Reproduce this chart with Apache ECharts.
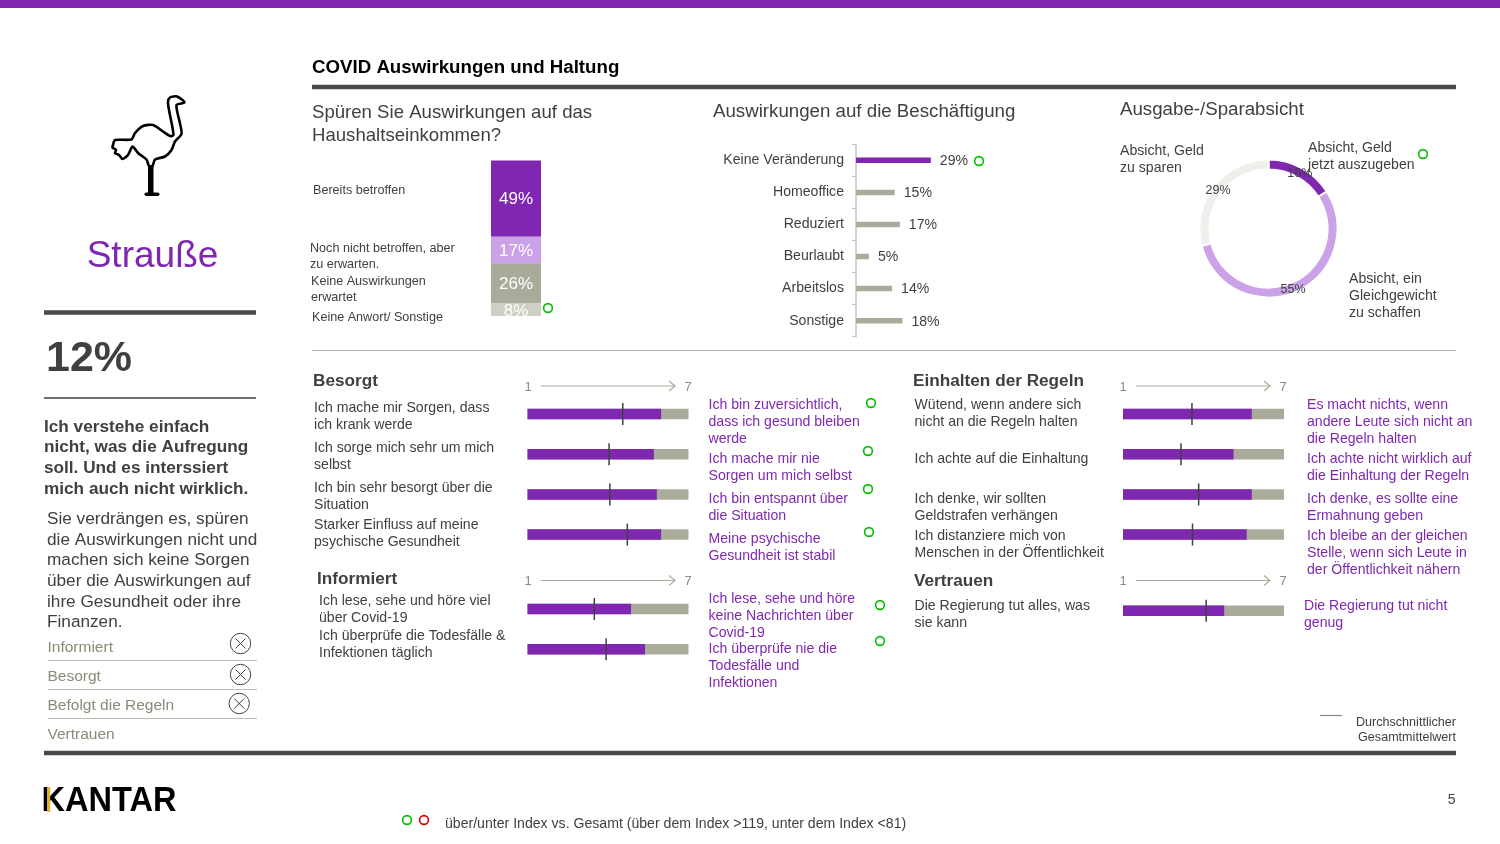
<!DOCTYPE html>
<html>
<head>
<meta charset="utf-8">
<title>COVID Auswirkungen und Haltung</title>
<script src="https://cdn.jsdelivr.net/npm/echarts@6/dist/echarts.min.js"></script>
<style>
html, body { margin: 0; padding: 0; background: #fff; }
#chart { width: 1500px; height: 844px; }
</style>
</head>
<body>
<div id="chart"></div>
<script>
// data
var incomeNames = ['Bereits betroffen', 'Noch nicht betroffen', 'Keine Auswirkungen', 'Keine Anwort/ Sonstige'];
var incomeValues = [49, 17, 26, 8];
var jobNames = ['Keine Veränderung', 'Homeoffice', 'Reduziert', 'Beurlaubt', 'Arbeitslos', 'Sonstige'];
var jobValues = [29, 15, 17, 5, 14, 18];
var spendNames = ['Absicht, Geld jetzt auszugeben', 'Absicht, ein Gleichgewicht zu schaffen', 'Absicht, Geld zu sparen'];
var spendValues = [16, 55, 29];

var besorgtValues = [5.98, 5.71, 5.82, 5.98];
var besorgtAvg = [4.55, 4.04, 4.07, 4.72];
var informiertValues = [4.86, 5.38];
var informiertAvg = [3.49, 3.93];
var regelnValues = [5.80, 5.12, 5.80, 5.61];
var regelnAvg = [3.57, 3.16, 3.82, 3.59];
var vertrauenValues = [4.77];
var vertrauenAvg = [4.10];

var besorgtLeft = ['Ich mache mir Sorgen, dass\nich krank werde', 'Ich sorge mich sehr um mich\nselbst', 'Ich bin sehr besorgt über die\nSituation', 'Starker Einfluss auf meine\npsychische Gesundheit'];
var besorgtRight = ['Ich bin zuversichtlich,\ndass ich gesund bleiben\nwerde', 'Ich mache mir nie\nSorgen um mich selbst', 'Ich bin entspannt über\ndie Situation', 'Meine psychische\nGesundheit ist stabil'];
var informiertLeft = ['Ich lese, sehe und höre viel\nüber Covid-19', 'Ich überprüfe die Todesfälle &\nInfektionen täglich'];
var informiertRight = ['Ich lese, sehe und höre\nkeine Nachrichten über\nCovid-19', 'Ich überprüfe nie die\nTodesfälle und\nInfektionen'];
var regelnLeft = ['Wütend, wenn andere sich\nnicht an die Regeln halten', 'Ich achte auf die Einhaltung', 'Ich denke, wir sollten\nGeldstrafen verhängen', 'Ich distanziere mich von\nMenschen in der Öffentlichkeit'];
var regelnRight = ['Es macht nichts, wenn\nandere Leute sich nicht an\ndie Regeln halten', 'Ich achte nicht wirklich auf\ndie Einhaltung der Regeln', 'Ich denke, es sollte eine\nErmahnung geben', 'Ich bleibe an der gleichen\nStelle, wenn sich Leute in\nder Öffentlichkeit nähern'];
var vertrauenLeft = ['Die Regierung tut alles, was\nsie kann'];
var vertrauenRight = ['Die Regierung tut nicht\ngenug'];

var profileItems = ['Informiert', 'Besorgt', 'Befolgt die Regeln', 'Vertrauen'];
var boldText = 'Ich verstehe einfach\nnicht, was die Aufregung\nsoll. Und es interssiert\nmich auch nicht wirklich.';
var plainText = 'Sie verdrängen es, spüren\ndie Auswirkungen nicht und\nmachen sich keine Sorgen\nüber die Auswirkungen auf\nihre Gesundheit oder ihre\nFinanzen.';

// colours
var PURPLE = '#7F27B0', LILAC = '#CBA2E8', GREY = '#ABAB9B', PALE = '#CFCFC5', MIST = '#EFEFEB';
var DARK = '#404040', RULE = '#4A4A4A', GREEN = '#00BE00', RED = '#E00000';
var FONT = '"Liberation Sans", Arial, sans-serif';

var chart = echarts.init(document.getElementById('chart'));
var graphics = [];

function text(str, x, y, size, color, opt) {
    opt = opt || {};
    var lh = opt.lh || Math.round(size * 1.16);
    graphics.push({
        type: 'text',
        z: 10,
        style: {
            text: str, x: x, y: y - lh / 2 + 1,
            fill: color || DARK,
            font: (opt.bold ? 'bold ' : '') + size + 'px ' + FONT,
            lineHeight: lh,
            textAlign: opt.align || 'left',
            textVerticalAlign: 'top'
        }
    });
}
function rule(x1, x2, y, w, color) {
    graphics.push({ type: 'line', shape: { x1: x1, y1: y, x2: x2, y2: y }, style: { stroke: color, lineWidth: w } });
}
function ring(x, y, color) {
    graphics.push({ type: 'circle', z: 10, shape: { cx: x, cy: y, r: 4.4 }, style: { fill: 'none', stroke: color, lineWidth: 1.6 } });
}
function crossed(x, y) {
    graphics.push({ type: 'circle', shape: { cx: x, cy: y, r: 10.2 }, style: { fill: 'none', stroke: DARK, lineWidth: 1 } });
    graphics.push({ type: 'line', shape: { x1: x - 5, y1: y - 5, x2: x + 5, y2: y + 5 }, style: { stroke: DARK, lineWidth: 1 } });
    graphics.push({ type: 'line', shape: { x1: x - 5, y1: y + 5, x2: x + 5, y2: y - 5 }, style: { stroke: DARK, lineWidth: 1 } });
}
function scaleArrow(x1, x2, y, lx1, lx2) {
    graphics.push({ type: 'line', shape: { x1: x1, y1: y, x2: x2, y2: y }, style: { stroke: GREY, lineWidth: 1.2 } });
    graphics.push({ type: 'polyline', shape: { points: [[x2 - 6, y - 5], [x2, y], [x2 - 6, y + 5]] }, style: { fill: 'none', stroke: GREY, lineWidth: 1.2 } });
    text('1', lx1, y, 13, '#8C8C7C', { align: 'center' });
    text('7', lx2, y, 13, '#8C8C7C', { align: 'center' });
}
function block(list, x, ys, color) {
    for (var i = 0; i < list.length; i++) {
        text(list[i], x, ys[i], 14.1, color, { lh: 17 });
    }
}

// page frame
graphics.push({ type: 'rect', shape: { x: 0, y: 0, width: 1500, height: 8 }, style: { fill: PURPLE } });
rule(312, 1456, 87, 4.5, RULE);
rule(312, 1456, 350.5, 1, '#B4B4B4');
rule(44, 256, 312.5, 4.5, RULE);
rule(44, 256, 398, 1.5, DARK);
rule(44, 1456, 753, 4.5, RULE);

// ostrich icon
graphics.push({
    type: 'polygon',
    shape: {
        smooth: 0.25,
        points: [[184.5, 102.5], [177, 96.5], [170, 97.5], [168, 102], [169, 110], [173.5, 135], [170, 136], [163, 131.5], [153, 125], [143, 126], [135, 133], [131.5, 139.5],
            [115, 140], [113, 145], [112.5, 147.5], [116, 150], [115, 153], [119, 155], [122.5, 159], [128, 155], [132.5, 146.5], [138, 153], [146.5, 159.5], [149, 166],
            [152.5, 166], [155, 159.5], [165, 156.5], [171.5, 150], [175, 141.5], [181.5, 134], [180, 123.5], [176.5, 105]]
    },
    style: { fill: 'none', stroke: '#000', lineWidth: 2.6, lineJoin: 'round' }
});
graphics.push({ type: 'rect', shape: { x: 148, y: 165, width: 5.5, height: 29 }, style: { fill: '#000' } });
graphics.push({ type: 'rect', shape: { x: 144.5, y: 192.5, width: 15, height: 3.5, r: 1.7 }, style: { fill: '#000' } });

// left panel
text('Strauße', 152.5, 256, 37, PURPLE, { align: 'center' });
text('12%', 46, 358, 43, DARK, { bold: true });
text(boldText, 44, 426, 17.2, DARK, { bold: true, lh: 20.6 });
text(plainText, 47, 518.5, 17.2, DARK, { lh: 20.6 });
var itemYs = [646.5, 675.5, 704.5, 733.5];
for (var i = 0; i < profileItems.length; i++) {
    text(profileItems[i], 47.5, itemYs[i], 15.5, '#8A8A78');
}
rule(48, 257, 660.5, 1, '#BDBDB0');
rule(48, 257, 689.5, 1, '#BDBDB0');
rule(48, 257, 718.5, 1, '#BDBDB0');
crossed(240.5, 643.5);
crossed(240.5, 674.5);
crossed(239.2, 703.5);

// headings
text('COVID Auswirkungen und Haltung', 312, 66.5, 18.7, '#000', { bold: true });
text('Spüren Sie Auswirkungen auf das\nHaushaltseinkommen?', 312, 111.5, 18.6, DARK, { lh: 23 });
text('Auswirkungen auf die Beschäftigung', 713, 111, 18.7, DARK);
text('Ausgabe-/Sparabsicht', 1120, 109, 18.7, DARK);

// labels of the income bar
text('Bereits betroffen', 313, 190, 12.6, DARK);
text('Noch nicht betroffen, aber\nzu erwarten.', 310, 248, 12.6, DARK, { lh: 15.5 });
text('Keine Auswirkungen\nerwartet', 311, 281, 12.6, DARK, { lh: 15.5 });
text('Keine Anwort/ Sonstige', 312, 316.5, 12.6, DARK);
// the last label is cut off at the foot of the bar
graphics.push({ type: 'rect', z: 20, shape: { x: 491, y: 316, width: 50, height: 6 }, style: { fill: '#fff' } });

// labels of the ring
text('Absicht, Geld\nzu sparen', 1120, 150.5, 14.1, DARK, { lh: 17 });
text('Absicht, Geld\njetzt auszugeben', 1308, 147.5, 14.1, DARK, { lh: 17 });
text('Absicht, ein\nGleichgewicht\nzu schaffen', 1349, 278.5, 14.1, DARK, { lh: 17 });

// attitude blocks
text('Besorgt', 313, 380, 17.2, DARK, { bold: true });
text('Informiert', 317, 578.5, 17.2, DARK, { bold: true });
text('Einhalten der Regeln', 913, 380, 17.2, DARK, { bold: true });
text('Vertrauen', 914, 580.5, 17.2, DARK, { bold: true });
block(besorgtLeft, 314, [407.5, 447.5, 487.5, 524.5], DARK);
block(besorgtRight, 708.5, [404.5, 458.5, 498, 538], PURPLE);
block(informiertLeft, 319, [600, 635.5], DARK);
block(informiertRight, 708.5, [598, 648.5], PURPLE);
block(regelnLeft, 914.5, [404.5, 458, 498, 535], DARK);
block(regelnRight, 1307, [404.5, 458, 498, 535], PURPLE);
block(vertrauenLeft, 914.5, [605], DARK);
block(vertrauenRight, 1304, [605], PURPLE);
scaleArrow(541, 675, 386, 528, 688);
scaleArrow(541, 675, 580.5, 528, 688);
scaleArrow(1136, 1270, 386, 1123, 1283);
scaleArrow(1136, 1270, 580.5, 1123, 1283);

// index markers and footer
var markers = [[548, 308], [979, 161], [1423, 154], [871, 403], [868, 451], [868, 489], [869, 532], [880, 605], [880, 641], [407, 820]];
for (var m = 0; m < markers.length; m++) {
    ring(markers[m][0], markers[m][1], GREEN);
}
ring(424, 820, RED);
text('über/unter Index vs. Gesamt (über dem Index >119, unter dem Index <81)', 445, 823.5, 14.1, DARK);
text('5', 1455.5, 799.5, 14.1, DARK, { align: 'right' });
rule(1320, 1342, 715.5, 1.2, '#8C8C7C');
text('Durchschnittlicher\nGesamtmittelwert', 1456, 721.5, 12.6, DARK, { align: 'right', lh: 15.5 });

// logo
graphics.push({
    type: 'text', z: 10, x: 41.5, y: 801, scaleX: 0.93,
    style: { text: 'KANTAR', x: 0, y: 0, fill: '#000', font: 'bold 35px ' + FONT, textVerticalAlign: 'middle' }
});
graphics.push({ type: 'rect', z: 11, shape: { x: 47, y: 787, width: 3.2, height: 25 }, style: { fill: '#E8B020' } });

// one grid, axes and two series for each group of attitude bars
var grids = [
    { left: 491, top: 160.5, width: 50, height: 155.5 },
    { left: 856, top: 144.3, width: 258, height: 192.4 }
];
var xAxes = [
    { gridIndex: 0, type: 'category', data: ['Haushaltseinkommen'], show: false },
    { gridIndex: 1, type: 'value', min: 0, max: 100, show: false }
];
var yAxes = [
    { gridIndex: 0, type: 'value', min: 0, max: 100, inverse: true, show: false },
    {
        gridIndex: 1, type: 'category', inverse: true, data: jobNames,
        axisLine: { show: true, lineStyle: { color: '#C4C4C4', width: 1.5 } },
        axisTick: { show: true, length: 4, lineStyle: { color: '#C4C4C4' } },
        axisLabel: { color: DARK, fontSize: 14.1, fontFamily: FONT, margin: 12, padding: [4, 0, 0, 0] }
    }
];
var incomeColors = [PURPLE, LILAC, GREY, PALE];
var series = [];
for (var s = 0; s < incomeValues.length; s++) {
    series.push({
        type: 'bar', name: incomeNames[s], xAxisIndex: 0, yAxisIndex: 0, stack: 'income', barWidth: 50,
        data: [incomeValues[s]],
        itemStyle: { color: incomeColors[s] },
        label: { show: true, position: 'inside', offset: [0, s === 3 ? 2 : 1], formatter: '{c}%', color: '#fff', fontSize: 17, fontFamily: FONT }
    });
}
series.push({
    type: 'bar', name: 'Beschäftigung', xAxisIndex: 1, yAxisIndex: 1, barWidth: 5.5,
    data: jobValues.map(function (v, i) {
        return { value: v, itemStyle: { color: i === 0 ? PURPLE : GREY } };
    }),
    label: { show: true, position: 'right', distance: 9, offset: [0, 1], formatter: '{c}%', color: DARK, fontSize: 14.1, fontFamily: FONT }
});
var spendColors = [PURPLE, LILAC, MIST];
var spendLabelShift = [[-1, 4], [-2, 0], [2.5, 3]];
series.push({
    type: 'pie', name: 'Sparabsicht', center: [1268.5, 228.5], radius: [59, 69], startAngle: 90, clockwise: true,
    data: spendValues.map(function (v, i) {
        return { value: v, name: spendNames[i], itemStyle: { color: spendColors[i] }, label: { offset: spendLabelShift[i] } };
    }),
    itemStyle: { borderColor: '#fff', borderWidth: 2 },
    label: { show: true, position: 'inside', formatter: '{c}%', color: DARK, fontSize: 12.5, fontFamily: FONT },
    labelLine: { show: false }
});

function addLikert(left, centerTop, values, avg, names) {
    var g = grids.length;
    var band = 40.2;
    grids.push({ left: left, top: centerTop - band / 2, width: 161, height: band * values.length });
    xAxes.push({ gridIndex: g, type: 'value', min: 1, max: 7, show: false });
    yAxes.push({ gridIndex: g, type: 'category', inverse: true, data: names, show: false });
    series.push({
        type: 'bar', xAxisIndex: g, yAxisIndex: g, barWidth: 10.5, data: values,
        showBackground: true, backgroundStyle: { color: GREY },
        itemStyle: { color: PURPLE }
    });
    series.push({
        type: 'scatter', xAxisIndex: g, yAxisIndex: g, symbol: 'rect', symbolSize: [1.5, 22], z: 5,
        data: avg.map(function (v, i) { return [v, i]; }),
        itemStyle: { color: DARK, opacity: 1 }
    });
}
addLikert(527.5, 414, besorgtValues, besorgtAvg, besorgtLeft);
addLikert(527.5, 609, informiertValues, informiertAvg, informiertLeft);
addLikert(1123, 414, regelnValues, regelnAvg, regelnLeft);
addLikert(1123, 610.7, vertrauenValues, vertrauenAvg, vertrauenLeft);

chart.setOption({
    animation: false,
    backgroundColor: '#fff',
    textStyle: { fontFamily: FONT },
    tooltip: { show: false },
    grid: grids,
    xAxis: xAxes,
    yAxis: yAxes,
    series: series,
    graphic: { elements: graphics }
});
</script>
</body>
</html>
